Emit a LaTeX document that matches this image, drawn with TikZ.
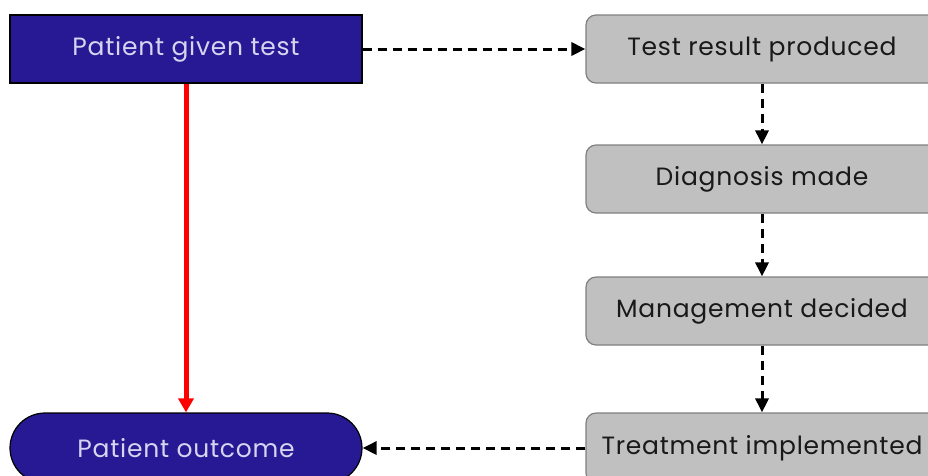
\documentclass[tikz,border=0pt]{standalone}
\usepackage{fontspec}
\setmainfont{Poppins}[LetterSpace=3,Ligatures=NoCommon]
\usetikzlibrary{arrows.meta}
\definecolor{navy}{HTML}{261993}
\definecolor{lav}{HTML}{D6D4F0}
\definecolor{boxgray}{HTML}{C0C0C0}
\definecolor{edgegray}{HTML}{808080}
\begin{document}
\begin{tikzpicture}[x=1pt,y=-1pt,
  bluebox/.style={draw=black,line width=1.2pt,fill=navy,text=lav,minimum width=352pt,minimum height=68pt,inner sep=0pt,font=\fontsize{25}{30}\selectfont},
  graybox/.style={draw=edgegray,line width=1.2pt,fill=boxgray,text=black!90,rounded corners=10pt,minimum width=352pt,minimum height=68pt,inner sep=0pt,font=\fontsize{25}{30}\selectfont},
  dashflow/.style={line width=3pt,dash pattern=on 9pt off 6pt,-{Triangle[length=14pt,width=13pt]}},
  redflow/.style={draw=red,line width=5pt,-{Triangle[length=14pt,width=15pt]}}]
\useasboundingbox (0,0) rectangle (928,475);
\clip (0,0) rectangle (928,475);
\node[bluebox] (test) at (186,49) {Patient given test};
\node[graybox] (result) at (762,49) {Test result produced};
\node[graybox] (diag) at (762,179) {Diagnosis made};
\node[graybox] (manage) at (762,311) {Management decided};
\node[graybox,minimum height=70pt] (treat) at (762,448) {Treatment implemented};
\node[bluebox,rounded corners=35pt,minimum height=70pt] (outcome) at (186,448) {Patient outcome};
\draw[dashflow] (test) -- (result);
\draw[dashflow] (result) -- (diag);
\draw[dashflow] (diag) -- (manage);
\draw[dashflow] (manage) -- (treat);
\draw[dashflow] (treat) -- (outcome);
\draw[redflow] (test) -- (outcome);
\end{tikzpicture}
\end{document}
